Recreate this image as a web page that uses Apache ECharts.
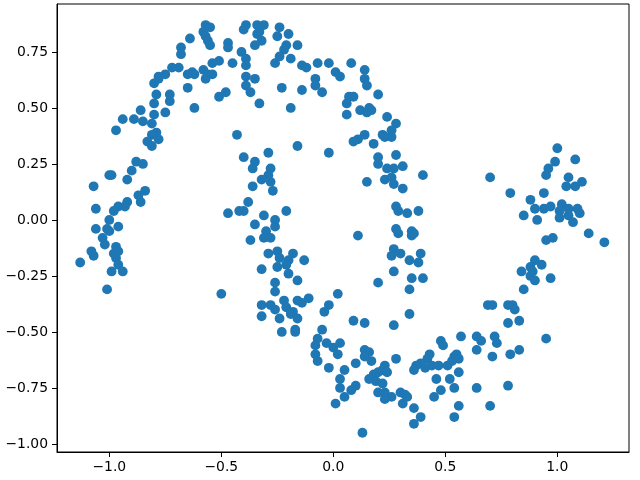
<!DOCTYPE html>
<html>
<head>
<meta charset="utf-8">
<script src="https://cdn.jsdelivr.net/npm/echarts@6/dist/echarts.min.js"></script>
<style>html,body{margin:0;padding:0;background:#fff}#c{width:640px;height:480px}</style>
</head>
<body>
<div id="c"></div>
<script>
const points = [
[-0.64,0.81],[-0.68,0.77],[-0.68,0.74],[-0.69,0.68],[-0.72,0.68],[-0.65,0.65],[-0.63,0.66],[-0.62,0.65],
[-0.75,0.65],[-0.78,0.64],[-0.78,0.63],[-0.80,0.61],[-0.65,0.59],[-0.79,0.56],[-0.73,0.56],[-0.73,0.53],
[-0.80,0.52],[-0.62,0.50],[-0.86,0.49],[-0.80,0.47],[-0.75,0.48],[-0.94,0.45],[-0.89,0.45],[-0.85,0.44],
[-0.81,0.43],[-0.97,0.40],[-0.79,0.39],[-0.81,0.38],[-0.78,0.36],[-0.83,0.35],[-0.81,0.33],
[-0.57,0.87],[-0.55,0.86],[-0.58,0.84],[-0.57,0.82],[-0.56,0.80],[-0.55,0.78],[-0.39,0.87],[-0.40,0.85],
[-0.34,0.87],[-0.31,0.87],[-0.33,0.84],[-0.34,0.83],[-0.24,0.86],[-0.20,0.83],[-0.25,0.82],[-0.47,0.79],
[-0.47,0.77],[-0.32,0.80],[-0.35,0.78],[-0.41,0.75],[-0.39,0.72],[-0.39,0.69],[-0.21,0.78],[-0.16,0.78],
[-0.22,0.76],[-0.24,0.73],[-0.19,0.72],[-0.26,0.70],[-0.45,0.70],[-0.51,0.71],[-0.54,0.70],[-0.58,0.67],
[-0.56,0.65],[-0.54,0.65],[-0.57,0.63],[-0.14,0.69],[-0.12,0.68],[-0.07,0.70],[-0.02,0.70],[0.01,0.66],
[0.03,0.64],[-0.39,0.64],[-0.35,0.63],[-0.39,0.60],[-0.37,0.57],[-0.48,0.57],[-0.51,0.55],[-0.23,0.59],
[-0.14,0.58],[-0.08,0.63],[-0.08,0.60],[-0.05,0.57],[-0.33,0.52],[-0.19,0.50],[-0.43,0.38],[-0.16,0.33],
[-0.29,0.30],[-0.02,0.30],
[0.08,0.70],[0.14,0.67],[0.14,0.63],[0.15,0.60],[0.20,0.56],[0.07,0.55],[0.09,0.55],[0.06,0.52],
[0.06,0.47],[0.12,0.49],[0.16,0.50],[0.15,0.48],[0.17,0.49],[0.24,0.46],[0.28,0.43],[0.26,0.40],
[0.22,0.38],[0.23,0.37],[0.26,0.37],[0.14,0.38],[0.11,0.36],[0.09,0.35],[0.18,0.34],[0.20,0.28],
[0.28,0.29],[1.00,0.32],[1.08,0.27],
[-0.88,0.26],[-0.85,0.25],[-0.90,0.22],[-1.00,0.20],[-0.99,0.20],[-0.92,0.18],[-1.07,0.15],[-0.84,0.13],
[-0.87,0.11],[-0.86,0.08],[-0.92,0.08],[-0.96,0.06],[-0.93,0.06],[-0.98,0.04],[-1.06,0.05],[-1.00,0.00],
[-1.06,-0.04],[-1.01,-0.04],[-1.00,-0.05],[-0.96,-0.03],[-1.03,-0.08],[-1.02,-0.11],[-0.97,-0.12],[-1.08,-0.14],
[-1.07,-0.16],[-0.98,-0.15],[-0.96,-0.14],[-0.97,-0.17],[-1.13,-0.19],[-0.96,-0.20],[-0.99,-0.23],[-0.94,-0.23],
[-1.01,-0.31],
[-0.40,0.28],[-0.35,0.26],[-0.36,0.23],[-0.28,0.23],[-0.29,0.20],[-0.32,0.18],[-0.28,0.17],[-0.36,0.15],
[-0.27,0.13],[-0.38,0.08],[-0.47,0.03],[-0.42,0.04],[-0.40,0.04],[-0.31,0.02],[-0.21,0.04],[-0.26,0.00],
[-0.26,-0.03],[-0.35,-0.02],[-0.30,-0.05],[-0.31,-0.08],[-0.28,-0.08],[-0.37,-0.09],[-0.29,-0.15],[-0.25,-0.14],
[-0.24,-0.17],[-0.18,-0.15],[-0.20,-0.18],[-0.13,-0.18],[-0.25,-0.21],[-0.21,-0.20],[-0.32,-0.22],[-0.20,-0.24],
[-0.16,-0.27],[-0.26,-0.28],[-0.26,-0.32],[-0.50,-0.33],[0.02,-0.33],[-0.32,-0.38],[-0.28,-0.38],[-0.22,-0.36],
[-0.16,-0.36],[-0.11,-0.35],[-0.14,-0.37],[-0.02,-0.38],
[-0.26,-0.40],[-0.21,-0.39],[-0.18,-0.41],[-0.19,-0.42],[-0.16,-0.44],[-0.32,-0.43],[-0.24,-0.44],[-0.23,-0.50],
[-0.17,-0.49],[-0.17,-0.50],[-0.04,-0.41],[-0.05,-0.49],[-0.07,-0.53],[-0.08,-0.56],[-0.03,-0.55],[0.00,-0.57],
[0.03,-0.55],[0.02,-0.60],[-0.08,-0.60],[-0.07,-0.63],[-0.02,-0.66],[0.05,-0.67],[0.03,-0.71],[0.03,-0.75],
[0.05,-0.79],[0.01,-0.82],
[0.20,0.25],[0.24,0.23],[0.27,0.23],[0.31,0.24],[0.15,0.17],[0.23,0.18],[0.26,0.19],[0.27,0.16],
[0.31,0.14],[0.40,0.20],[0.70,0.19],[0.28,0.06],[0.29,0.04],[0.33,0.03],[0.38,0.04],[0.11,-0.07],
[0.28,-0.04],[0.29,-0.06],[0.35,-0.05],[0.35,-0.07],[0.36,-0.06],[0.27,-0.13],[0.26,-0.16],[0.30,-0.15],
[0.39,-0.15],[0.34,-0.18],[0.38,-0.19],[0.27,-0.23],[0.20,-0.28],[0.35,-0.26],[0.40,-0.26],[0.34,-0.31],
[0.69,-0.38],
[0.99,0.26],[0.96,0.23],[0.95,0.20],[1.05,0.19],[1.04,0.15],[1.08,0.15],[1.11,0.17],[0.79,0.12],
[0.88,0.09],[0.94,0.12],[0.85,0.02],[0.90,0.05],[0.94,0.05],[0.97,0.06],[1.02,0.07],[1.01,0.04],
[1.01,0.01],[1.05,0.05],[1.05,0.02],[1.09,0.05],[1.10,0.03],[0.91,0.00],[1.07,-0.01],[1.14,-0.06],
[1.21,-0.10],[0.95,-0.09],[0.98,-0.08],[0.90,-0.18],[0.93,-0.20],[0.88,-0.21],[0.84,-0.23],[0.89,-0.23],
[0.88,-0.25],[0.90,-0.27],[0.97,-0.26],[0.85,-0.31],[0.71,-0.38],[0.78,-0.38],[0.80,-0.38],[0.81,-0.40],
[0.78,-0.46],[0.83,-0.45],[0.72,-0.52],[0.73,-0.55],[0.71,-0.61],[0.79,-0.60],[0.83,-0.58],[0.95,-0.53],
[0.78,-0.74],[0.70,-0.83],
[0.09,-0.45],[0.14,-0.46],[0.27,-0.47],[0.34,-0.42],[0.48,-0.54],[0.49,-0.56],[0.57,-0.52],[0.64,-0.52],
[0.66,-0.54],[0.64,-0.58],[0.14,-0.58],[0.16,-0.59],[0.14,-0.61],[0.10,-0.64],[0.17,-0.63],[0.28,-0.62],
[0.43,-0.60],[0.42,-0.62],[0.39,-0.64],[0.37,-0.65],[0.36,-0.67],[0.41,-0.66],[0.44,-0.65],[0.47,-0.65],
[0.51,-0.65],[0.54,-0.61],[0.55,-0.60],[0.56,-0.62],[0.53,-0.63],[0.56,-0.68],[0.52,-0.71],[0.46,-0.71],
[0.54,-0.75],[0.48,-0.76],[0.45,-0.79],[0.56,-0.83],[0.54,-0.88],[0.64,-0.75],[0.23,-0.65],[0.22,-0.67],
[0.24,-0.68],[0.20,-0.68],[0.18,-0.69],[0.16,-0.71],[0.19,-0.72],[0.22,-0.73],[0.10,-0.74],[0.08,-0.76],
[0.20,-0.77],[0.23,-0.77],[0.26,-0.79],[0.23,-0.80],[0.30,-0.77],[0.32,-0.78],[0.33,-0.79],[0.31,-0.82],
[0.36,-0.84],[0.39,-0.88],[0.36,-0.91],[0.13,-0.95]
];
const xTicks = [-1.0, -0.5, 0.0, 0.5, 1.0];
const yTicks = [-1.00, -0.75, -0.50, -0.25, 0.00, 0.25, 0.50, 0.75];

const fmt = (d) => (v) => { const s = Math.abs(v).toFixed(d); return (v < -1e-9 ? '\u2212' : '') + s; };
const font = {fontFamily: 'DejaVu Sans', fontSize: 13.9, color: '#000'};
const chart = echarts.init(document.getElementById('c'), null, {renderer: 'canvas'});
chart.setOption({
  animation: false,
  backgroundColor: '#fff',
  grid: {left: 57, top: 4, width: 572, height: 448, show: true, borderColor: '#000', borderWidth: 1, backgroundColor: 'transparent'},
  xAxis: {
    type: 'value', min: -1.2335, max: 1.32,
    axisLine: {show: true, onZero: false, lineStyle: {color: '#000', width: 1}},
    axisTick: {show: true, length: 5, lineStyle: {color: '#000', width: 1}, customValues: xTicks},
    axisLabel: Object.assign({margin: 8, formatter: fmt(1), customValues: xTicks}, font),
    splitLine: {show: false}
  },
  yAxis: {
    type: 'value', min: -1.036, max: 0.964,
    axisLine: {show: true, onZero: false, lineStyle: {color: '#000', width: 1}},
    axisTick: {show: true, length: 5, lineStyle: {color: '#000', width: 1}, customValues: yTicks},
    axisLabel: Object.assign({margin: 9, formatter: fmt(2), customValues: yTicks}, font),
    splitLine: {show: false}
  },
  series: [{
    type: 'scatter',
    data: points,
    symbol: 'circle',
    symbolSize: 9.8,
    itemStyle: {color: '#1f77b4', opacity: 1},
    emphasis: {disabled: true}
  }]
});
</script>
</body>
</html>
